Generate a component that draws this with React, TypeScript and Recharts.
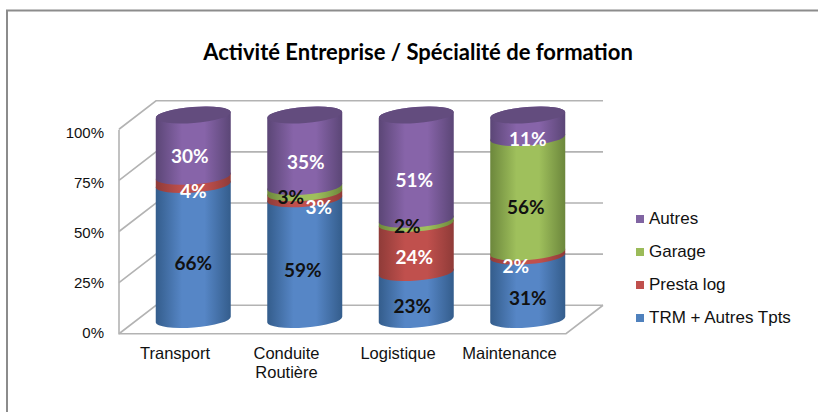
import { BarChart, Bar, XAxis, YAxis, Legend, LabelList, CartesianGrid } from "recharts";

const categories = ["Transport", "Conduite Routière", "Logistique", "Maintenance"];
const trm = [66, 59, 23, 31];
const presta = [4, 3, 24, 2];
const garage = [0, 3, 2, 56];
const autres = [30, 35, 51, 11];
const yTicks = [0, 25, 50, 75, 100];

const data = categories.map((name, i) => ({
  name,
  trm: trm[i],
  presta: presta[i],
  garage: garage[i],
  autres: autres[i],
}));

// 3D box offsets around the plane the cylinders stand on
const DEPTH_X = 18.5;
const DEPTH_Y = 14.25;
const FRONT_LEFT = 119;
const BACK_RIGHT = 603;
const PLOT_BOTTOM = 319.5;
const GRID = "#b3b3b3";
const TILT = 2.9;
const RY = 8;

// hand moved data labels from the original, per series then per category
const nudges: Record<string, number[][]> = {
  trm: [[0, 0], [-2, 0], [-4, 0], [0, 0]],
  presta: [[0, 0], [14, 1], [-2, -1], [-12, 1]],
  garage: [[0, 0], [-14, -3], [-9, -6], [-2, 2]],
  autres: [[-3.5, 0], [1, 1], [-2, 2], [0, 2]],
};

function Cylinder(props: any) {
  const { x, y, width, height, id, cap, capColor } = props;
  if (!height) return null;
  const rx = width / 2;
  const bottom = y + height;
  return (
    <g>
      <path
        d={`M${x} ${y + TILT} L${x} ${bottom + TILT} A${rx} ${RY} -4.4 0 0 ${x + width} ${bottom - TILT} L${x + width} ${y - TILT} A${rx} ${RY} -4.4 0 0 ${x} ${y + TILT} Z`}
        fill={`url(#${id})`}
      />
      {cap && (
        <ellipse
          cx={x + rx}
          cy={y}
          rx={rx}
          ry={RY}
          fill={capColor}
          transform={`rotate(-4.4 ${x + rx} ${y})`}
        />
      )}
    </g>
  );
}

// the wall lines go through the grid so they stay behind the cylinders
function WallLine(props: any) {
  const y = props.y1;
  const frontY = y + DEPTH_Y;
  const backY = y - DEPTH_Y;
  const backLeft = FRONT_LEFT + 2 * DEPTH_X;
  return (
    <g>
      <path
        d={`M${FRONT_LEFT} ${frontY} L${backLeft} ${backY} L${BACK_RIGHT} ${backY}`}
        fill="none"
        stroke={GRID}
        strokeWidth={1.6}
      />
      {Math.abs(y - PLOT_BOTTOM) < 1 && (
        <path
          d={`M${FRONT_LEFT} ${frontY - 204} L${FRONT_LEFT} ${frontY} L${BACK_RIGHT - 2 * DEPTH_X} ${frontY} L${BACK_RIGHT} ${backY}`}
          fill="none"
          stroke={GRID}
          strokeWidth={1.6}
        />
      )}
    </g>
  );
}

function YTick(props: any) {
  const { y, payload } = props;
  const labelY = 333 - ((PLOT_BOTTOM - y) * 50) / 51;
  return (
    <text x={104} y={labelY} dy={5} textAnchor="end" fontSize={15} fontFamily="Liberation Sans" fill="#111">
      {payload.value}%
    </text>
  );
}

function XTick(props: any) {
  const { x, payload } = props;
  const lines = String(payload.value).split(" ");
  return (
    <text x={x - DEPTH_X} y={359} textAnchor="middle" fontSize={16.5} fontFamily="Liberation Sans" fill="#111">
      {lines.map((line, i) => (
        <tspan key={line} x={x - DEPTH_X} dy={i === 0 ? 0 : 19}>
          {line}
        </tspan>
      ))}
    </text>
  );
}

function makeLabel(key: string, color: string) {
  return (props: any) => {
    const { x, y, width, height, value, index } = props;
    if (!value) return null;
    const [dx, dy] = nudges[key][index];
    return (
      <text
        x={x + width / 2 + dx}
        y={y + height / 2 + 11 + dy}
        dy={6.5}
        textAnchor="middle"
        fontSize={19}
        fontWeight={700}
        fontFamily="Lato"
        fill={color}
      >
        {value}%
      </text>
    );
  };
}

function LegendList(props: any) {
  const items = props.payload || [];
  return (
    <div>
      {items.map((item: any) => (
        <div
          key={item.value}
          style={{
            display: "flex",
            alignItems: "center",
            height: 33,
            fontFamily: "Liberation Sans",
            fontSize: 17,
            color: "#111",
            whiteSpace: "nowrap",
          }}
        >
          <span style={{ width: 8, height: 8, background: item.color, marginRight: 5 }} />
          {item.value}
        </div>
      ))}
    </div>
  );
}

function Grad({ id, edge, mid }: { id: string; edge: string; mid: string }) {
  return (
    <linearGradient id={id} x1="0" y1="0" x2="1" y2="0">
      <stop offset="0%" stopColor={edge} />
      <stop offset="35%" stopColor={mid} />
      <stop offset="65%" stopColor={mid} />
      <stop offset="100%" stopColor={edge} />
    </linearGradient>
  );
}

export default function App() {
  return (
    <div style={{ position: "absolute", left: 0, top: 0 }}>
      <BarChart
        width={818}
        height={412}
        data={data}
        margin={{ top: 115, bottom: 91.5, left: 136.75, right: 234.25 }}
      >
        <defs>
          <Grad id="gradTrm" edge="#345d8c" mid="#5686c6" />
          <Grad id="gradPresta" edge="#8f3b38" mid="#c0504d" />
          <Grad id="gradGarage" edge="#6c873c" mid="#9fc05c" />
          <Grad id="gradAutres" edge="#5b4676" mid="#8764a9" />
        </defs>
        <rect x={7} y={10.5} width={900} height={500} fill="none" stroke="#8c8c8c" strokeWidth={2} />
        <text x={418} y={60} textAnchor="middle" fontSize={22} fontWeight={700} fontFamily="Lato" fill="#000">
          Activité Entreprise / Spécialité de formation
        </text>
        <CartesianGrid vertical={false} horizontal={(p: any) => <WallLine {...p} />} syncWithTicks />
        <XAxis dataKey="name" axisLine={false} tickLine={false} height={1} tick={<XTick />} interval={0} />
        <YAxis
          type="number"
          domain={[0, 100]}
          ticks={yTicks}
          interval={0}
          axisLine={false}
          tickLine={false}
          width={1}
          tick={<YTick />}
        />
        <Legend
          layout="vertical"
          align="center"
          verticalAlign="middle"
          wrapperStyle={{ left: 636, top: 202, width: 170 }}
          content={<LegendList />}
        />
        <Bar
          dataKey="trm"
          name="TRM + Autres Tpts"
          stackId="a"
          barSize={75}
          fill="#4f81bd"
          isAnimationActive={false}
          shape={(p: any) => <Cylinder {...p} id="gradTrm" />}
        >
          <LabelList dataKey="trm" content={makeLabel("trm", "#111")} />
        </Bar>
        <Bar
          dataKey="presta"
          name="Presta log"
          stackId="a"
          barSize={75}
          fill="#c0504d"
          isAnimationActive={false}
          shape={(p: any) => <Cylinder {...p} id="gradPresta" />}
        >
          <LabelList dataKey="presta" content={makeLabel("presta", "#fff")} />
        </Bar>
        <Bar
          dataKey="garage"
          name="Garage"
          stackId="a"
          barSize={75}
          fill="#9bbb59"
          isAnimationActive={false}
          shape={(p: any) => <Cylinder {...p} id="gradGarage" />}
        >
          <LabelList dataKey="garage" content={makeLabel("garage", "#111")} />
        </Bar>
        <Bar
          dataKey="autres"
          name="Autres"
          stackId="a"
          barSize={75}
          fill="#8064a2"
          isAnimationActive={false}
          shape={(p: any) => <Cylinder {...p} id="gradAutres" cap capColor="#634c7e" />}
        >
          <LabelList dataKey="autres" content={makeLabel("autres", "#fff")} />
        </Bar>
      </BarChart>
    </div>
  );
}
